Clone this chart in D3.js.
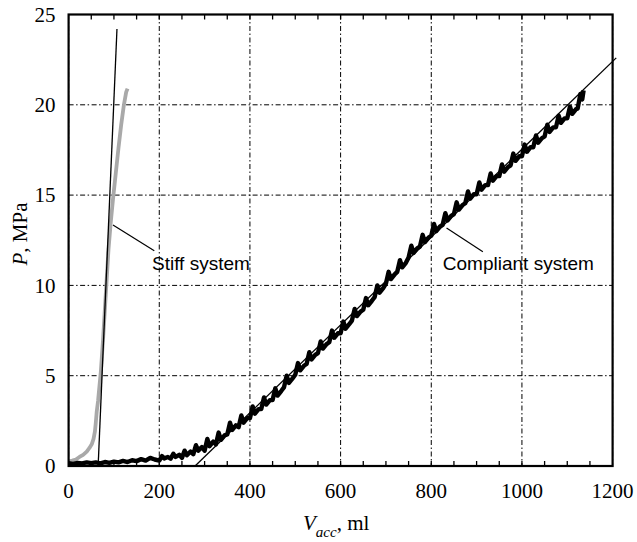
<!DOCTYPE html>
<html>
<head>
<meta charset="utf-8">
<script src="https://cdn.jsdelivr.net/npm/d3@7"></script>
<style>
    body { margin: 0; background: #fff; }
    svg { display: block; }
</style>
</head>
<body>
<svg id="Target" width="637" height="542"></svg>
<script>
// tick values
const xTicks = [0, 200, 400, 600, 800, 1000, 1200];
const yTicks = [0, 5, 10, 15, 20, 25];
const xMinorTicks = d3.range(50, 1200, 50);

// stiff system: measured curve (grey) and fitted line
const stiffData = [[0,0.25],[8,0.3],[16,0.36],[24,0.5],[32,0.62],[40,0.8],[46,1.0],[51,1.2],[55,1.5],[58,1.9],
    [60,2.4],[62,3.0],[65,3.6],[68,4.4],[71,5.2],[76,7.0],[82,9.5],[88,12.0],[93,13.5],[98,14.8],
    [104,16.2],[110,17.6],[116,18.9],[122,20.0],[127,20.7],[130,20.9]];
const stiffFit = [[65.5, 0.2], [106.7, 24.2]];

// compliant system: measured curve (black, stepped) and fitted line
const compliantData = [[0,0.15],[10,0.12],[20,0.17],[30,0.14],[40,0.2],[50,0.16],[60,0.2],[70,0.15],[80,0.22],[90,0.17],
    [100,0.24],[110,0.2],[120,0.28],[130,0.22],[140,0.32],[150,0.27],[160,0.38],[170,0.3],[180,0.45],[190,0.36],
    [200,0.3],[206,0.55],[211,0.42],[219,0.5],
    [225,0.4],[231,0.68],[236,0.5],[244,0.62],
    [250,0.45],[256,0.85],[261,0.6],[269,0.8],
    [275,0.65],[281,1.15],[286,0.85],[294,1.05],
    [300,0.85],[306,1.5],[311,1.1],[319,1.35],
    [325,1.2],[331,1.85],[336,1.45],[344,1.7],
    [350,1.75],[356,2.4],[361,2.0],[369,2.25],
    [375,2.15],[381,2.8],[386,2.4],[394,2.65],
    [400,2.65],[406,3.3],[411,2.9],[419,3.15],
    [425,3.15],[431,3.8],[436,3.4],[444,3.65],
    [450,3.65],[456,4.3],[461,3.9],[469,4.15],
    [475,4.35],[481,5.0],[486,4.6],[494,4.85],
    [500,5.05],[506,5.7],[511,5.3],[519,5.55],
    [525,5.65],[531,6.3],[536,5.9],[544,6.15],
    [550,6.25],[556,6.9],[561,6.5],[569,6.75],
    [575,6.85],[581,7.5],[586,7.1],[594,7.35],
    [600,7.35],[606,8.0],[611,7.6],[619,7.85],
    [625,8.05],[631,8.7],[636,8.3],[644,8.55],
    [650,8.65],[656,9.3],[661,8.9],[669,9.15],
    [675,9.35],[681,10.0],[686,9.6],[694,9.85],
    [700,10.1],[706,10.75],[711,10.35],[719,10.6],
    [725,10.75],[731,11.4],[736,11.0],[744,11.25],
    [750,11.55],[756,12.2],[761,11.8],[769,12.05],
    [775,12.15],[781,12.8],[786,12.4],[794,12.65],
    [800,12.75],[806,13.4],[811,13.0],[819,13.25],
    [825,13.35],[831,14.0],[836,13.6],[844,13.85],
    [850,13.95],[856,14.6],[861,14.2],[869,14.45],
    [875,14.55],[881,15.2],[886,14.8],[894,15.05],
    [900,15.05],[906,15.7],[911,15.3],[919,15.55],
    [925,15.55],[931,16.2],[936,15.8],[944,16.05],
    [950,16.05],[956,16.7],[961,16.3],[969,16.55],
    [975,16.65],[981,17.3],[986,16.9],[994,17.15],
    [1000,17.15],[1006,17.8],[1011,17.4],[1019,17.65],
    [1025,17.65],[1031,18.3],[1036,17.9],[1044,18.15],
    [1050,18.25],[1056,18.9],[1061,18.5],[1069,18.75],
    [1075,18.75],[1081,19.4],[1086,19.0],[1094,19.25],
    [1100,19.25],[1106,19.9],[1111,19.5],[1119,19.75],
    [1123,19.8],[1129,20.6],[1133,20.3],[1136,20.8]];
const compliantFit = [[279, 0], [1208, 22.6]];

// annotation labels with pointer lines (data units)
const labels = ["Stiff system", "Compliant system"];
const labelAt = [[184, 10.85], [825.5, 10.85]];
const pointers = [[[97.9, 13.34], [189, 11.92]], [[833.7, 13.18], [913.8, 11.87]]];

const svg = d3.select("#Target");
const plotLeft = 68.6, plotRight = 612.6, plotTop = 14.5, plotBottom = 466;

const x = d3.scaleLinear().domain([0, 1200]).range([plotLeft, plotRight]);
const y = d3.scaleLinear().domain([0, 25]).range([plotBottom, plotTop]);

const serif = "'Liberation Serif', 'Times New Roman', serif";
const sans = "'Liberation Sans', Arial, Helvetica, sans-serif";

// grid (dash-dot)
const grid = svg.append("g")
    .attr("stroke", "#000")
    .attr("stroke-width", 1)
    .attr("stroke-dasharray", "5,2.5,1.5,2.5");

grid.selectAll("line.vgrid")
    .data(xTicks)
    .enter()
    .append("line")
    .attr("x1", d => x(d)).attr("x2", d => x(d))
    .attr("y1", plotTop).attr("y2", plotBottom);

grid.selectAll("line.hgrid")
    .data(yTicks)
    .enter()
    .append("line")
    .attr("x1", plotLeft).attr("x2", plotRight)
    .attr("y1", d => y(d)).attr("y2", d => y(d));

// minor ticks on top and bottom, pointing inward
const ticks = svg.append("g").attr("stroke", "#000").attr("stroke-width", 1.3);
ticks.selectAll("line.bt")
    .data(xMinorTicks)
    .enter()
    .append("line")
    .attr("x1", d => x(d)).attr("x2", d => x(d))
    .attr("y1", plotBottom).attr("y2", plotBottom - 5);
ticks.selectAll("line.tt")
    .data(xMinorTicks)
    .enter()
    .append("line")
    .attr("x1", d => x(d)).attr("x2", d => x(d))
    .attr("y1", plotTop).attr("y2", plotTop + 5);

const line = d3.line()
    .x(d => x(d[0]))
    .y(d => y(d[1]));

// curves
svg.append("path")
    .datum(stiffData)
    .attr("d", line)
    .attr("fill", "none")
    .attr("stroke", "#a9a9a9")
    .attr("stroke-width", 3.8)
    .attr("stroke-linejoin", "round");

svg.append("path")
    .datum(compliantData)
    .attr("d", line)
    .attr("fill", "none")
    .attr("stroke", "#000")
    .attr("stroke-width", 4.4)
    .attr("stroke-linejoin", "round");

svg.selectAll("path.fit")
    .data([stiffFit, compliantFit])
    .enter()
    .append("path")
    .attr("d", line)
    .attr("fill", "none")
    .attr("stroke", "#000")
    .attr("stroke-width", 1.3);

// annotations
svg.selectAll("path.pointer")
    .data(pointers)
    .enter()
    .append("path")
    .attr("d", line)
    .attr("stroke", "#000")
    .attr("stroke-width", 1.2);

svg.selectAll("text.note")
    .data(labels)
    .enter()
    .append("text")
    .attr("x", (d, i) => x(labelAt[i][0]))
    .attr("y", (d, i) => y(labelAt[i][1]))
    .attr("font-family", sans)
    .attr("font-size", 19)
    .attr("fill", "#000")
    .text(d => d);

// frame
svg.append("rect")
    .attr("x", plotLeft).attr("y", plotTop)
    .attr("width", plotRight - plotLeft).attr("height", plotBottom - plotTop)
    .attr("fill", "none")
    .attr("stroke", "#000")
    .attr("stroke-width", 2.2);

// tick labels
svg.selectAll("text.xt")
    .data(xTicks)
    .enter()
    .append("text")
    .attr("x", d => x(d))
    .attr("y", plotBottom + 32)
    .attr("text-anchor", "middle")
    .attr("font-family", serif)
    .attr("font-size", 21)
    .text(d => d);

svg.selectAll("text.yt")
    .data(yTicks)
    .enter()
    .append("text")
    .attr("x", plotLeft - 13)
    .attr("y", d => y(d))
    .attr("dy", "0.34em")
    .attr("text-anchor", "end")
    .attr("font-family", serif)
    .attr("font-size", 21)
    .text(d => d);

// axis titles
const xTitle = svg.append("text")
    .attr("x", 303)
    .attr("y", 530)
    .attr("font-family", serif)
    .attr("font-size", 21);
xTitle.append("tspan").attr("font-style", "italic").text("V");
xTitle.append("tspan").attr("font-style", "italic").attr("font-size", 15).attr("dy", 7).text("acc");
xTitle.append("tspan").attr("dy", -7).text(", ml");

const yTitle = svg.append("text")
    .attr("transform", "translate(27,234) rotate(-90)")
    .attr("text-anchor", "middle")
    .attr("font-family", serif)
    .attr("font-size", 21);
yTitle.append("tspan").attr("font-style", "italic").text("P");
yTitle.append("tspan").text(", MPa");
</script>
</body>
</html>
